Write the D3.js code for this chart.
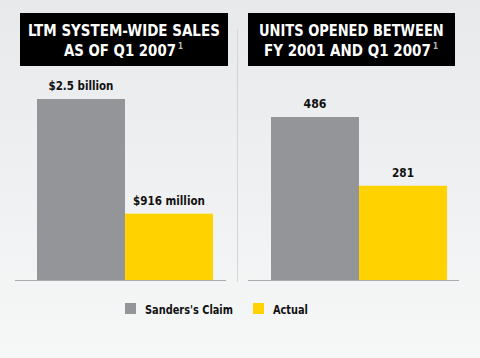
<!DOCTYPE html>
<html><head><meta charset="utf-8">
<script src="https://cdn.jsdelivr.net/npm/d3@7"></script>
<style>
html,body{margin:0;padding:0;background:#eeeff0;}
svg{display:block;}
text{font-family:"DejaVu Sans Condensed","DejaVu Sans",sans-serif;font-stretch:condensed;font-weight:bold;}
</style></head><body>
<svg id="c" width="480" height="358"></svg>
<script>
const seriesNames = ["Sanders's Claim", "Actual"];
const seriesColors = ["#939598", "#ffd200"];
const salesTitle = ["LTM SYSTEM-WIDE SALES", "AS OF Q1 2007"];
const salesValues = [2.5, 0.916];
const salesLabels = ["$2.5 billion", "$916 million"];
const unitsTitle = ["UNITS OPENED BETWEEN", "FY 2001 AND Q1 2007"];
const unitsValues = [486, 281];
const unitsLabels = ["486", "281"];

const svg = d3.select("#c");
const defs = svg.append("defs");
const grad = defs.append("linearGradient").attr("id","bg").attr("x1",0).attr("y1",0).attr("x2",0).attr("y2",1);
grad.append("stop").attr("offset","0%").attr("stop-color","#e8e9eb");
grad.append("stop").attr("offset","100%").attr("stop-color","#f6f7f7");
svg.append("rect").attr("width",480).attr("height",358).attr("fill","url(#bg)");

svg.append("line").attr("x1",237.5).attr("x2",237.5).attr("y1",29).attr("y2",282)
  .attr("stroke","#d4d5d7").attr("stroke-width",1);

// place text starting at x0, baseline y, squeezed horizontally to width w
function squeeze(parent, str, x0, y, w, size, fill){
  const t = parent.append("text").attr("x",0).attr("y",0).attr("font-size",size).attr("fill",fill).text(str);
  const nat = t.node().getComputedTextLength();
  t.attr("transform",`translate(${x0},${y}) scale(${w/nat},1)`);
  return t;
}

function panel(cfg){
  const g = svg.append("g");
  g.append("rect").attr("x",cfg.boxX).attr("y",13).attr("width",cfg.boxW).attr("height",53).attr("fill","#000");
  cfg.title.forEach((t,i)=>{
    const [x0,x1] = cfg.titleSpan[i];
    squeeze(g, t, x0, 36 + i*20, x1-x0, 16.5, "#fff");
  });
  g.append("text").attr("x",cfg.titleSpan[1][1]+2).attr("y",49).attr("font-size",8)
    .attr("font-weight","normal").attr("fill","#bdbdbd").text("1");
  const x = d3.scaleBand().domain(seriesNames).range(cfg.xRange).paddingInner(0).paddingOuter(0);
  const y = d3.scaleLinear().domain([0, cfg.values[0]]).range([280, cfg.topY]);
  g.selectAll("rect.bar").data(cfg.values).join("rect").attr("class","bar")
    .attr("x",(d,i)=>x(seriesNames[i])).attr("width",x.bandwidth())
    .attr("y",d=>y(d)).attr("height",d=>280-y(d))
    .attr("fill",(d,i)=>seriesColors[i]);
  cfg.values.forEach((d,i)=>{
    const cx = x(seriesNames[i]) + x.bandwidth()/2;
    squeeze(g, cfg.labels[i], cx - cfg.labelW[i]/2, y(d)-9, cfg.labelW[i], 12.5, "#111");
  });
  g.append("line").attr("x1",cfg.base[0]).attr("x2",cfg.base[1]).attr("y1",280.5).attr("y2",280.5)
    .attr("stroke","#a7a9ac").attr("stroke-width",1);
}
panel({boxX:20, boxW:208, title:salesTitle, titleSpan:[[28,220],[64,176]], values:salesValues, labels:salesLabels,
  labelW:[65,72], xRange:[37,213], topY:99, base:[15,226]});
panel({boxX:248, boxW:207, title:unitsTitle, titleSpan:[[259,444],[264,431]], values:unitsValues, labels:unitsLabels,
  labelW:[23,22], xRange:[271,447], topY:117, base:[248,459]});

const legX = [125, 253];
const legW = [88, 35];
const lg = svg.append("g");
seriesNames.forEach((s,i)=>{
  lg.append("rect").attr("x",legX[i]).attr("y",303).attr("width",11).attr("height",11).attr("fill",seriesColors[i]);
  squeeze(lg, s, legX[i]+20, 314, legW[i], 13, "#111");
});
</script></body></html>
